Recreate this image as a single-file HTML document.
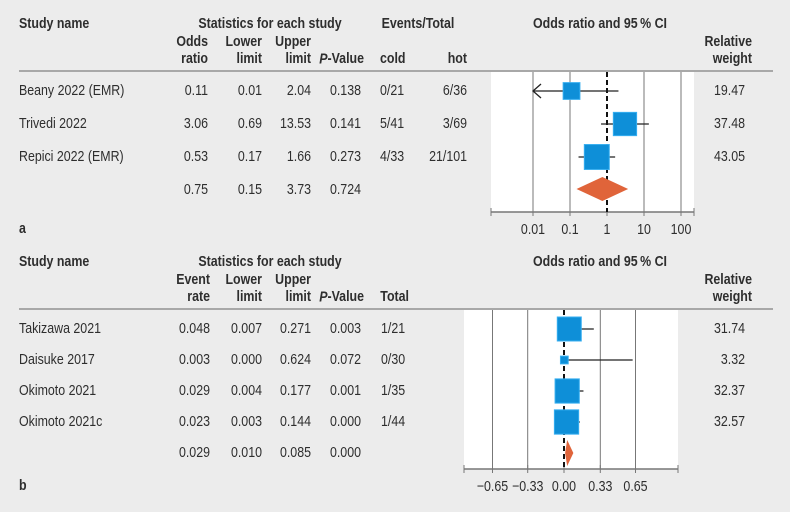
<!DOCTYPE html>
<html><head><meta charset="utf-8"><style>
html,body{margin:0;padding:0;background:#ececec;}
svg{display:block;font-family:"Liberation Sans Narrow","Liberation Sans",sans-serif;font-size:14.6px;fill:#2e2e2e;}
.b{font-weight:bold;}
</style></head><body>
<svg id="c" width="790" height="512" viewBox="0 0 790 512"></svg>
<script>
// Panel a data
const aStudies = ["Beany 2022 (EMR)", "Trivedi 2022", "Repici 2022 (EMR)"];
const aOR = [0.11, 3.06, 0.53];
const aLower = [0.01, 0.69, 0.17];
const aUpper = [2.04, 13.53, 1.66];
const aP = ["0.138", "0.141", "0.273"];
const aCold = ["0/21", "5/41", "4/33"];
const aHot = ["6/36", "3/69", "21/101"];
const aWeight = [19.47, 37.48, 43.05];
const aSummary = [0.75, 0.15, 3.73];
const aSummaryP = "0.724";
const aTicks = [0.01, 0.1, 1, 10, 100];
const aTickLabels = ["0.01", "0.1", "1", "10", "100"];
// Panel b data
const bStudies = ["Takizawa 2021", "Daisuke 2017", "Okimoto 2021", "Okimoto 2021c"];
const bRate = [0.048, 0.003, 0.029, 0.023];
const bLower = [0.007, 0.000, 0.004, 0.003];
const bUpper = [0.271, 0.624, 0.177, 0.144];
const bP = ["0.003", "0.072", "0.001", "0.000"];
const bTotal = ["1/21", "0/30", "1/35", "1/44"];
const bWeight = [31.74, 3.32, 32.37, 32.57];
const bSummary = [0.029, 0.010, 0.085];
const bSummaryP = "0.000";
const bTicks = [-0.65, -0.33, 0, 0.33, 0.65];
const bTickLabels = ["\u22120.65", "\u22120.33", "0.00", "0.33", "0.65"];

const NS = "http://www.w3.org/2000/svg";
const svg = document.getElementById("c");
function el(tag, attrs, parent) {
  const e = document.createElementNS(NS, tag);
  for (const k in attrs) e.setAttribute(k, attrs[k]);
  (parent || svg).appendChild(e);
  return e;
}
function txt(x, y, s, anchor, cls, name) {
  const t = el("text", {x: x, y: y, "text-anchor": anchor || "start", "dominant-baseline": "middle",
    transform: `translate(${x},0) scale(0.85,1) translate(${-x},0)`});
  if (cls) t.setAttribute("class", cls);
  t.textContent = s;
  
  
  return t;
}
const f2 = v => v.toFixed(2);
const f3 = v => v.toFixed(3);

const ax = v => 607 + Math.log10(v) * 37;
const bx = v => 564 + v * 110;

function panel(o) {
  txt(19, o.h1, "Study name", "start", "b", "study-name-header");
  txt(270, o.h1, "Statistics for each study", "middle", "b", "stats-header");
  txt(600, o.h1, "Odds ratio and 95\u202f% CI", "middle", "b", "plot-header");
  txt(o.c0, o.h2, o.col0[0], "end", "b", "col-header");
  txt(o.c0, o.h3, o.col0[1], "end", "b", "col-header");
  txt(262, o.h2, "Lower", "end", "b", "lower-limit-header");
  txt(262, o.h3, "limit", "end", "b", "lower-limit-header");
  txt(311, o.h2, "Upper", "end", "b", "upper-limit-header");
  txt(311, o.h3, "limit", "end", "b", "upper-limit-header");
  const pv = txt(364, o.h3, "", "end", "b", "p-value-header");
  const it = document.createElementNS(NS, "tspan"); it.setAttribute("font-style", "italic"); it.textContent = "P"; pv.appendChild(it);
  pv.appendChild(document.createTextNode("-Value"));
  txt(752, o.h2, "Relative", "end", "b", "relative-weight-header");
  txt(752, o.h3, "weight", "end", "b", "relative-weight-header");
  o.extraHeaders();
  const sep = el("line", {x1: 19, x2: 773, y1: o.sep, y2: o.sep, stroke: "#a8a8a8", "stroke-width": 2});
  
  
  const bg = el("rect", {x: o.px0, y: o.sep + 1, width: o.px1 - o.px0, height: o.axisY - o.sep - 1, fill: "#fff"});
  
  
  o.ticks.forEach((t, i) => {
    const x = o.sx(t);
    if (t !== o.ref) {
      const g = el("line", {x1: x, x2: x, y1: o.sep + 1, y2: o.axisY, stroke: "#777", "stroke-width": 1});
      
      
    }
    const tk = el("line", {x1: x, x2: x, y1: o.axisY - 4, y2: o.axisY + 4, stroke: "#777"});
    
    
    txt(x, o.axisY + 18, o.tickLabels[i], "middle", "", "tick-label");
  });
  [o.px0, o.px1].forEach(x => {
    const tk = el("line", {x1: x, x2: x, y1: o.axisY - 4, y2: o.axisY + 4, stroke: "#777"});
    
    
  });
  const axl = el("line", {x1: o.px0, x2: o.px1, y1: o.axisY, y2: o.axisY, stroke: "#777", "stroke-width": 1.5});
  
  
  const rx = o.sx(o.ref);
  const rl = el("line", {x1: rx, x2: rx, y1: o.sep + 1, y2: o.axisY, stroke: "#111", "stroke-width": 2, "stroke-dasharray": "5,3"});
  
  
  txt(19, o.axisY + 17, o.letter, "start", "b", "panel-letter");
}

function box(cx, cy, w, lo, hi, loArrow, name) {
  const l = el("line", {x1: lo, x2: hi, y1: cy, y2: cy, stroke: "#222", "stroke-width": 1.3});
  
  
  if (loArrow) {
    const a = el("polyline", {points: `${lo+8},${cy-7} ${lo},${cy} ${lo+8},${cy+7}`, fill: "none", stroke: "#222", "stroke-width": 1.3});
    
    
  }
  const s = 3.8 * Math.sqrt(w) * (name.startsWith("b") ? 1.12 : 1);
  const r = el("rect", {x: cx - s / 2, y: cy - s / 2, width: s, height: s, fill: "#0e8fd8", stroke: "#35aef0", "stroke-width": 1});
  
  
}
function diamond(c, lo, hi, cy, h, name) {
  const d = el("polygon", {points: `${lo},${cy} ${c},${cy-h} ${hi},${cy} ${c},${cy+h}`, fill: "#e0643a"});
  
  
}

// ---- Panel a ----
const aRows = [91, 124, 157];
panel({h1: 24, h2: 42, h3: 59, sep: 71, c0: 208, col0: ["Odds", "ratio"], px0: 491, px1: 694, axisY: 212,
  sx: ax, ticks: aTicks, tickLabels: aTickLabels, ref: 1, letter: "a",
  extraHeaders: () => {
    txt(418, 24, "Events/Total", "middle", "b", "events-total-header");
    txt(380, 59, "cold", "start", "b", "cold-header");
    txt(467, 59, "hot", "end", "b", "hot-header");
  }});
aStudies.forEach((s, i) => {
  const y = aRows[i];
  txt(19, y, s, "start", "", "study-name");
  txt(208, y, f2(aOR[i]), "end", "", "odds-ratio");
  txt(262, y, f2(aLower[i]), "end", "", "lower-limit");
  txt(311, y, f2(aUpper[i]), "end", "", "upper-limit");
  txt(361, y, aP[i], "end", "", "p-value");
  txt(380, y, aCold[i], "start", "", "cold-events");
  txt(467, y, aHot[i], "end", "", "hot-events");
  txt(745, y, f2(aWeight[i]), "end", "", "relative-weight");
  const clipped = aLower[i] <= 0.01;
  const lo = Math.max(ax(aLower[i]), 531);
  box(ax(aOR[i]), y, aWeight[i], lo, ax(aUpper[i]), clipped, "a-study-" + i);
});
txt(208, 190, f2(aSummary[0]), "end", "", "summary-odds-ratio");
txt(262, 190, f2(aSummary[1]), "end", "", "summary-lower");
txt(311, 190, f2(aSummary[2]), "end", "", "summary-upper");
txt(361, 190, aSummaryP, "end", "", "summary-p-value");
diamond(ax(aSummary[0]), ax(aSummary[1]), ax(aSummary[2]), 189, 12, "a-summary-diamond");

// ---- Panel b ----
const bRows = [329, 360, 391, 422];
panel({h1: 262, h2: 280, h3: 297, sep: 309, c0: 210, col0: ["Event", "rate"], px0: 464, px1: 678, axisY: 469,
  sx: bx, ticks: bTicks, tickLabels: bTickLabels, ref: 0, letter: "b",
  extraHeaders: () => { txt(409, 297, "Total", "end", "b", "total-header"); }});
bStudies.forEach((s, i) => {
  const y = bRows[i];
  txt(19, y, s, "start", "", "study-name");
  txt(210, y, f3(bRate[i]), "end", "", "event-rate");
  txt(262, y, f3(bLower[i]), "end", "", "lower-limit");
  txt(311, y, f3(bUpper[i]), "end", "", "upper-limit");
  txt(361, y, bP[i], "end", "", "p-value");
  txt(381, y, bTotal[i], "start", "", "total");
  txt(745, y, f2(bWeight[i]), "end", "", "relative-weight");
  box(bx(bRate[i]), y, bWeight[i], bx(bLower[i]), bx(bUpper[i]), false, "b-study-" + i);
});
txt(210, 453, f3(bSummary[0]), "end", "", "summary-event-rate");
txt(262, 453, f3(bSummary[1]), "end", "", "summary-lower");
txt(311, 453, f3(bSummary[2]), "end", "", "summary-upper");
txt(361, 453, bSummaryP, "end", "", "summary-p-value");
diamond(bx(bSummary[0]), bx(bSummary[1]), bx(bSummary[2]), 453, 13, "b-summary-diamond");
</script>
</body></html>
